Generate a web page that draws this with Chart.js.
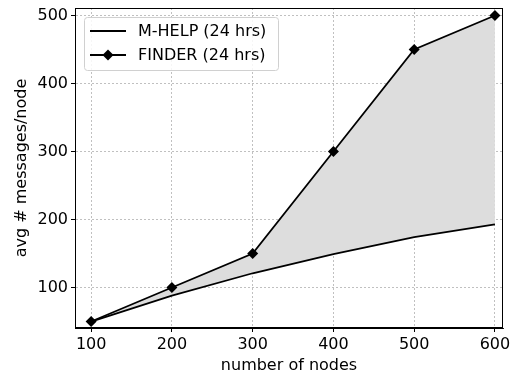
<!DOCTYPE html>
<html>
<head>
<meta charset="utf-8">
<script src="https://cdn.jsdelivr.net/npm/chart.js@4"></script>
<style>
  html, body { margin: 0; padding: 0; background: #fff; }
  #wrap { width: 518px; height: 379px; position: relative; }
</style>
</head>
<body>
<div id="wrap"><canvas id="myChart" width="518" height="379"></canvas></div>
<script>
// data
let nodes = [100, 200, 300, 400, 500, 600];
let mhelp = [50, 88, 121, 149, 174, 193];
let finder = [50, 100, 150, 300, 450, 500];
let xTicks = [100, 200, 300, 400, 500, 600];
let yTicks = [100, 200, 300, 400, 500];
let seriesNames = ['M-HELP (24 hrs)', 'FINDER (24 hrs)'];

const font = { family: 'DejaVu Sans', size: 16 };

// box round the plot + legend inside the plot
let framePlugin = {
  id: 'frame',
  afterDraw(chart) {
    let ctx = chart.ctx;
    let a = chart.chartArea;
    ctx.save();
    ctx.strokeStyle = '#000';
    ctx.lineWidth = 1;
    ctx.strokeRect(a.left + 0.5, a.top + 0.5, a.right - a.left - 1, a.bottom - a.top - 1);

    // legend
    let lx = a.left + 9, ly = a.top + 9, lw = 194, lh = 53;
    ctx.fillStyle = 'rgba(255,255,255,0.85)';
    ctx.strokeStyle = '#d0d0d0';
    ctx.beginPath();
    ctx.roundRect(lx + 0.5, ly + 0.5, lw, lh, 3);
    ctx.fill();
    ctx.stroke();

    ctx.font = '16px "DejaVu Sans"';
    ctx.textBaseline = 'middle';
    let rows = [ly + 14, ly + 38];
    rows.forEach((y, i) => {
      ctx.strokeStyle = '#000';
      ctx.lineWidth = 1.8;
      ctx.beginPath();
      ctx.moveTo(lx + 6, y);
      ctx.lineTo(lx + 42, y);
      ctx.stroke();
      if (i === 1) {
        let cx = lx + 24, r = 5.5;
        ctx.fillStyle = '#000';
        ctx.beginPath();
        ctx.moveTo(cx, y - r);
        ctx.lineTo(cx + r, y);
        ctx.lineTo(cx, y + r);
        ctx.lineTo(cx - r, y);
        ctx.closePath();
        ctx.fill();
      }
      ctx.fillStyle = '#000';
      ctx.fillText(seriesNames[i], lx + 54, y + 1);
    });
    ctx.restore();
  }
};

let myChart = document.getElementById('myChart').getContext('2d');
let lineChart = new Chart(myChart, {
  type: 'line',
  data: {
    datasets: [{
      label: seriesNames[0],
      data: nodes.map((x, i) => ({ x: x, y: mhelp[i] })),
      borderColor: '#000',
      borderWidth: 1.8,
      pointRadius: 0,
      fill: false,
      tension: 0
    }, {
      label: seriesNames[1],
      data: nodes.map((x, i) => ({ x: x, y: finder[i] })),
      borderColor: '#000',
      borderWidth: 1.8,
      backgroundColor: '#dddddd',
      pointStyle: 'rectRot',
      pointRadius: 5.5,
      pointBackgroundColor: '#000',
      pointBorderColor: '#000',
      pointBorderWidth: 0,
      fill: { target: 0, above: '#dddddd', below: '#dddddd' },
      tension: 0
    }]
  },
  options: {
    responsive: false,
    animation: false,
    devicePixelRatio: 1,
    layout: { padding: { top: 8, right: 15, left: 12, bottom: 0 } },
    plugins: { legend: { display: false }, tooltip: { enabled: false } },
    scales: {
      x: {
        type: 'linear',
        min: 80,
        max: 610,
        afterBuildTicks: (s) => { s.ticks = xTicks.map(v => ({ value: v })); },
        afterFit: (s) => { s.height = 51; s.paddingLeft = 0; s.paddingRight = 0; },
        ticks: { color: '#000', font: font, padding: 3, maxRotation: 0 },
        grid: { color: '#b0b0b0', lineWidth: 0.8, tickColor: '#000', tickLength: 4, tickWidth: 1 },
        border: { display: true, color: '#000', dash: [2, 2] },
        title: { display: true, text: 'number of nodes', color: '#000', font: font, padding: { top: 1, bottom: 4 } }
      },
      y: {
        type: 'linear',
        min: 40.5,
        max: 511,
        afterBuildTicks: (s) => { s.ticks = yTicks.map(v => ({ value: v })); },
        afterFit: (s) => { s.width = 63; s.paddingTop = 0; s.paddingBottom = 0; },
        ticks: { color: '#000', font: font, padding: 3 },
        grid: { color: '#b0b0b0', lineWidth: 0.8, tickColor: '#000', tickLength: 4, tickWidth: 1 },
        border: { display: true, color: '#000', dash: [2, 2] },
        title: { display: true, text: 'avg # messages/node', color: '#000', font: font, padding: { top: 0, bottom: 4 } }
      }
    }
  },
  plugins: [framePlugin]
});
</script>
</body>
</html>
